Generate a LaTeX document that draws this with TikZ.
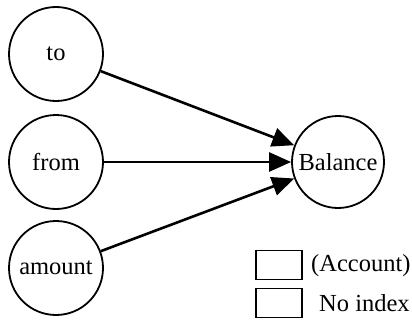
\documentclass[tikz,border=0pt]{standalone}
\usepackage{fontspec}
\setmainfont{Liberation Serif}
\usetikzlibrary{arrows.meta}
\begin{document}
\begin{tikzpicture}[x=1pt,y=-1pt,
  var/.style={circle,draw,line width=1.8pt,minimum size=94pt,inner sep=0pt,font=\fontsize{24.5}{26}\selectfont},
  link/.style={line width=2.6pt,-{Triangle[length=22pt,width=19pt]}},
  keybox/.style={draw,line width=1.8pt,minimum width=46pt,minimum height=29pt,inner sep=0pt},
  keytext/.style={anchor=west,font=\fontsize{24.5}{26}\selectfont,inner sep=0pt}]
\useasboundingbox (0,0) rectangle (412,321);
\node[var] (to) at (56,54) {to};
\node[var] (from) at (56,162) {from};
\node[var] (amount) at (56,268) {amount};
\node[var,minimum size=92pt] (bal) at (338,162) {Balance};
\draw[link] (to) -- (bal);
\draw[link] (from) -- (bal);
\draw[link] (amount) -- (bal);
\node[keybox] (k1) at (279,265) {};
\node[keybox] (k2) at (279,303) {};
\node[keytext] (t1) at (311,266) {(Account)};
\node[keytext] (t2) at (319,303) {No index};
\end{tikzpicture}
\end{document}
